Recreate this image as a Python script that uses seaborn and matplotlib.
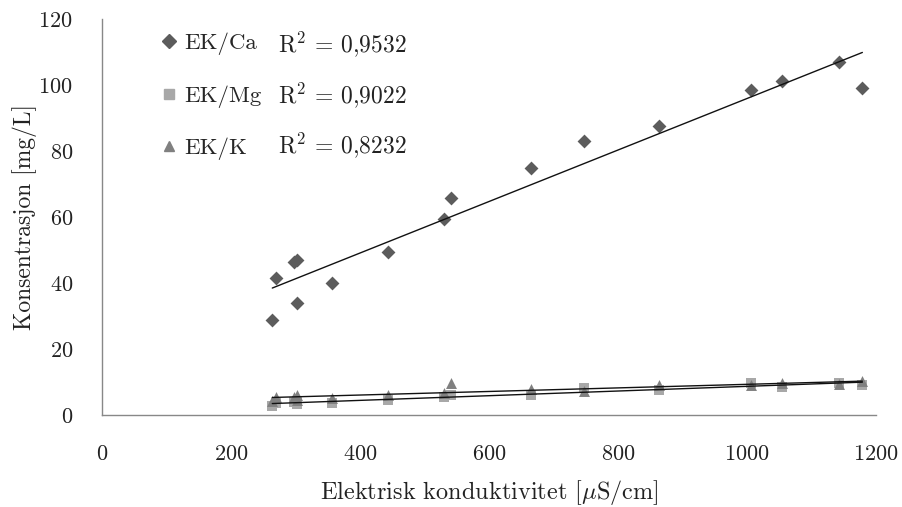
import numpy as np
import pandas as pd
import matplotlib
matplotlib.use("Agg")
import matplotlib.pyplot as plt
import seaborn as sns
from matplotlib.lines import Line2D

# ---- data ----
conductivity = [264, 270, 298, 303, 302, 357, 443, 530, 541, 665, 748, 864, 1006, 1055, 1143, 1179]
ca = [28.8, 41.5, 46.3, 47.0, 34.0, 40.1, 49.3, 59.4, 65.8, 75.0, 83.0, 87.6, 98.5, 101.2, 107.0, 99.2]
mg = [2.6, 3.5, 4.0, 3.2, 4.2, 3.6, 4.6, 5.5, 6.2, 6.1, 8.2, 7.6, 9.8, 8.4, 9.6, 9.0]
k = [4.2, 5.6, 5.5, 6.0, 4.6, 5.2, 6.2, 6.6, 9.6, 8.0, 7.2, 9.0, 9.0, 9.6, 9.5, 10.2]
series_names = ["EK/Ca", "EK/Mg", "EK/K"]
r2_labels = ["R$^2$ = 0,9532", "R$^2$ = 0,9022", "R$^2$ = 0,8232"]
x_ticks = [0, 200, 400, 600, 800, 1000, 1200]
y_ticks = [0, 20, 40, 60, 80, 100, 120]

df = pd.DataFrame({"x": conductivity, "EK/Ca": ca, "EK/Mg": mg, "EK/K": k})

sns.set_theme(style="white")
plt.rcParams["font.family"] = ["cmr10", "DejaVu Serif"]
plt.rcParams["axes.formatter.use_mathtext"] = True
plt.rcParams["mathtext.fontset"] = "cm"

fig = plt.figure(figsize=(9.03, 5.07), dpi=100)
ax = fig.add_axes([0.113, 0.1815, 0.857, 0.781])

styles = {
    "EK/Ca": dict(marker="D", color="#5c5c5c", s=50),
    "EK/Mg": dict(marker="s", color="#a8a8a8", s=55),
    "EK/K": dict(marker="^", color="#808080", s=62),
}
order = ["EK/Mg", "EK/K", "EK/Ca"]
for name in order:
    st = styles[name]
    sns.regplot(data=df, x="x", y=name, ax=ax, ci=None, marker=st["marker"],
                scatter_kws=dict(color=st["color"], s=st["s"], linewidths=0, alpha=1, zorder=2),
                line_kws=dict(color="#111111", lw=1.0, zorder=3), label=name)

ax.set_xlim(0, 1200)
ax.set_ylim(0, 120)
ax.set_xticks(x_ticks)
ax.set_yticks(y_ticks)
ax.set_xlabel("Elektrisk konduktivitet [$\\mu$S/cm]", fontsize=17.5, labelpad=10, color="#222222")
ax.set_ylabel("Konsentrasjon [mg/L]", fontsize=17, labelpad=1, color="#222222")
ax.tick_params(axis="both", labelsize=16, length=7, width=1, color="#888888",
               direction="out", labelcolor="#222222")
ax.tick_params(axis="x", pad=14)
ax.tick_params(axis="y", pad=14)
for side in ["top", "right"]:
    ax.spines[side].set_visible(False)
for side in ["left", "bottom"]:
    ax.spines[side].set_color("#888888")
    ax.spines[side].set_linewidth(1)

# legend
handles = [Line2D([], [], ls="", marker=styles[n]["marker"], color=styles[n]["color"],
                  markersize=7) for n in series_names]
ax.legend(handles, series_names, loc="upper left", bbox_to_anchor=(0.057, 1.0),
          frameon=False, fontsize=16.5, labelspacing=1.3, handletextpad=0.25,
          handlelength=0.8, borderaxespad=0.2)
r2_y = [0.937, 0.808, 0.682]
for lbl, yy in zip(r2_labels, r2_y):
    ax.text(0.227, yy, lbl, transform=ax.transAxes, fontsize=17, va="center",
            ha="left", color="#222222")

fig.savefig("out.png", dpi=100)
